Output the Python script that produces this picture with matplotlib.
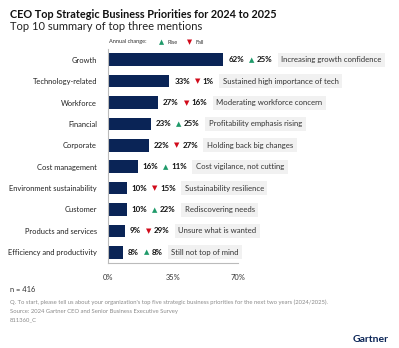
import matplotlib.pyplot as plt

plt.rcParams['font.family'] = ['Lato', 'DejaVu Sans']

categories = ['Growth', 'Technology-related', 'Workforce', 'Financial', 'Corporate',
              'Cost management', 'Environment sustainability', 'Customer',
              'Products and services', 'Efficiency and productivity']
share = [62, 33, 27, 23, 22, 16, 10, 10, 9, 8]
change = [25, 1, 16, 25, 27, 11, 15, 22, 29, 8]
rise = [True, False, False, True, False, True, False, True, False, True]
notes = ['Increasing growth confidence', 'Sustained high importance of tech',
         'Moderating workforce concern', 'Profitability emphasis rising',
         'Holding back big changes', 'Cost vigilance, not cutting',
         'Sustainability resilience', 'Rediscovering needs',
         'Unsure what is wanted', 'Still not top of mind']
ticks = [0, 35, 70]

NAVY = '#0a2456'
GREEN = '#1f9a6a'
RED = '#d10a1a'
GREY = '#8a8a8a'

W, H = 399, 348
fig = plt.figure(figsize=(W / 100, H / 100), dpi=100)
ax = fig.add_axes([108 / W, 1 - 263 / H, 130 / W, 214 / H])

y = list(range(len(categories)))
ax.barh(y, share, height=0.58, color=NAVY)
ax.set_xlim(0, 70)
ax.set_ylim(len(categories) - 0.5, -0.5)
ax.set_yticks(y)
ax.set_yticklabels(categories, fontsize=5.4, color='#222222')
ax.set_xticks(ticks)
ax.set_xticklabels([f'{t}%' for t in ticks], fontsize=5.4, color='#333333')
ax.tick_params(length=0, pad=8)
for s in ['top', 'right']:
    ax.spines[s].set_visible(False)
for s in ['left', 'bottom']:
    ax.spines[s].set_color('#bbbbbb')
    ax.spines[s].set_linewidth(0.8)

fig.canvas.draw()
r = fig.canvas.get_renderer()


def px(xp, yp):
    return xp / W, 1 - yp / H


# value, change marker, change value and note box, laid out left to right
for i in y:
    xd, yd = ax.transData.transform((share[i], i))
    ycen = H - yd
    x0 = xd + 5
    t = fig.text(*px(x0, ycen), f'{share[i]}%', fontsize=5.7, fontweight='bold',
                 va='center', ha='left', color='#111111')
    x0 = t.get_window_extent(r).x1 + 5
    fig.text(*px(x0, ycen + 0.3), '\u25B2' if rise[i] else '\u25BC', fontsize=5,
             color=GREEN if rise[i] else RED, va='center', ha='left',
             family='DejaVu Sans')
    x0 += 7.8
    t = fig.text(*px(x0, ycen), f'{change[i]}%', fontsize=5.7, fontweight='bold',
                 va='center', ha='left', color='#111111')
    x0 = t.get_window_extent(r).x1 + 9
    fig.text(*px(x0, ycen), notes[i], fontsize=5.6, va='center', ha='left',
             color='#333333',
             bbox=dict(boxstyle='square,pad=0.45', fc='#f1f1f1', ec='none'))

# legend
fig.text(*px(109, 42), 'Annual change:', fontsize=4.1, color='#333333', va='center')
fig.text(*px(159, 42.3), '\u25B2', fontsize=4.8, color=GREEN, va='center',
         family='DejaVu Sans')
fig.text(*px(168, 42), 'Rise', fontsize=4.1, color='#333333', va='center')
fig.text(*px(187, 42.3), '\u25BC', fontsize=4.8, color=RED, va='center',
         family='DejaVu Sans')
fig.text(*px(196, 42), 'Fall', fontsize=4.1, color='#333333', va='center')

# titles
fig.text(*px(10, 15), 'CEO Top Strategic Business Priorities for 2024 to 2025',
         fontsize=7.8, fontweight='bold', color='#111111', va='center')
fig.text(*px(10, 27), 'Top 10 summary of top three mentions', fontsize=8.0,
         color='#222222', va='center')

# footer
fig.text(*px(10, 289), 'n = 416', fontsize=5.4, color='#333333', va='center')
fig.text(*px(10, 302), "Q. To start, please tell us about your organization's top five "
         'strategic business priorities for the next two years (2024/2025).',
         fontsize=4.2, color=GREY, va='center')
fig.text(*px(10, 311), 'Source: 2024 Gartner CEO and Senior Business Executive Survey',
         fontsize=4.2, color=GREY, va='center')
fig.text(*px(10, 320), '811360_C', fontsize=4.2, color=GREY, va='center')
fig.text(*px(389, 340), 'Gartner', fontsize=7.5, fontweight='bold', color=NAVY,
         va='center', ha='right')

fig.savefig('out.png', dpi=100)
